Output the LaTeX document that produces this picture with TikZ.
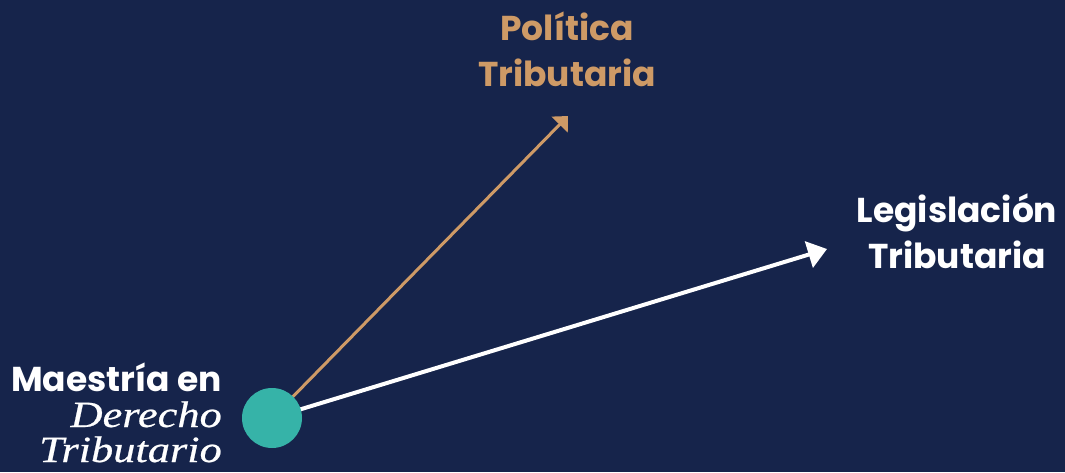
\documentclass[tikz,border=0pt]{standalone}
\usepackage{fontspec}
\setmainfont{Liberation Serif}
\newfontfamily\labfont{Poppins}
\newfontfamily\serifit[FakeStretch=1.2,FakeBold=0.6]{Liberation Serif Italic}
\usetikzlibrary{arrows.meta}
\definecolor{bg}{HTML}{16244B}
\definecolor{teal}{HTML}{36B3A8}
\definecolor{tan}{HTML}{CE9A66}
\begin{document}
\begin{tikzpicture}[x=1pt,y=-1pt,
  lab/.style={font=\labfont\bfseries\fontsize{34.5}{46}\selectfont, align=center, inner sep=0pt},
  ser/.style={font=\serifit\fontsize{37}{37}\selectfont, text=white, inner sep=0pt, anchor=base east},
  arrtan/.style={-{Triangle[length=12pt,width=22pt]}},
  arrwhite/.style={-{Triangle[length=19pt,width=27pt]}}]
\fill[bg] (0,0) rectangle (1065,472);
\useasboundingbox (0,0) rectangle (1065,472);
\coordinate (c) at (272,418);
\coordinate (tp) at (568,116);
\coordinate (tl) at (827,249);
\node[lab, text=tan, anchor=base] (pol) at (567,86) {Política\\Tributaria};
\node[lab, text=white, anchor=base] (leg) at (957,268) {Legislación\\Tributaria};
\node[lab, text=white, anchor=base east] (mae) at (222,391) {Maestría en};
\node[ser] (der) at (222,427) {Derecho};
\node[ser] (tri) at (222,462) {Tributario};
\draw[tan, line width=3pt, arrtan] (c) -- (tp);
\draw[white, line width=4pt, arrwhite] (c) -- (tl);
\fill[teal] (c) circle (30);
\end{tikzpicture}
\end{document}
